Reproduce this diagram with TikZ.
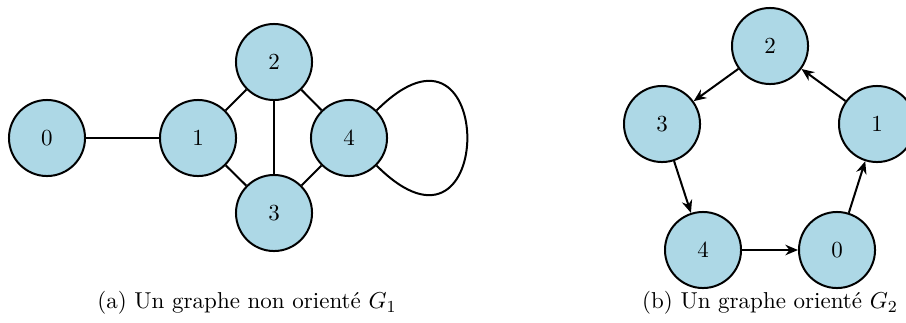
\documentclass[tikz,border=0pt]{standalone}
\usepackage{fontspec}
\usetikzlibrary{arrows.meta}
\definecolor{nodefill}{RGB}{173,216,230}
\begin{document}
\begin{tikzpicture}[x=0.476pt,y=-0.476pt,
  every node/.style={font=\fontsize{10.95pt}{13pt}\selectfont},
  vtx/.style={circle,draw=black,fill=nodefill,line width=0.95pt,minimum size=36.2pt,inner sep=0pt},
  edge/.style={line width=0.95pt},
  arc/.style={line width=0.95pt,-{Stealth[length=6pt,width=5pt]}}]
\useasboundingbox (0,0) rectangle (906,322);
% G1
\node[vtx] (a0) at (47,138) {0};
\node[vtx] (a1) at (198,138) {1};
\node[vtx] (a2) at (274,62) {2};
\node[vtx] (a3) at (274,213) {3};
\node[vtx] (a4) at (349,138) {4};
\draw[edge] (a0) -- (a1);
\draw[edge] (a1) -- (a2);
\draw[edge] (a1) -- (a3);
\draw[edge] (a2) -- (a3);
\draw[edge] (a2) -- (a4);
\draw[edge] (a3) -- (a4);
\draw[edge] (a4.45) .. controls +(121,-121) and +(121,121) .. (a4.-45);
\node (capa) at (247,303) {(a) Un graphe non orienté $G_1$};
% G2
\node[vtx] (b2) at (770,46) {2};
\node[vtx] (b3) at (662,124) {3};
\node[vtx] (b1) at (877,124) {1};
\node[vtx] (b4) at (703,250) {4};
\node[vtx] (b0) at (837,250) {0};
\draw[arc] (b1) -- (b2);
\draw[arc] (b2) -- (b3);
\draw[arc] (b3) -- (b4);
\draw[arc] (b4) -- (b0);
\draw[arc] (b0) -- (b1);
\node (capb) at (770,303) {(b) Un graphe orienté $G_2$};
\end{tikzpicture}
\end{document}
